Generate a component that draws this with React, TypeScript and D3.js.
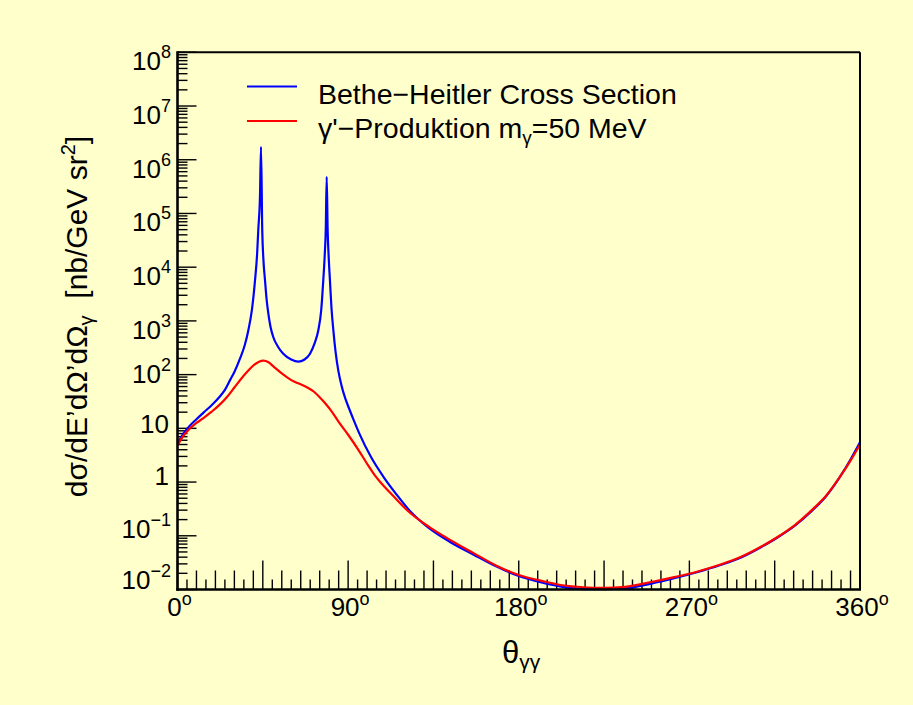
import React from "react";
import * as d3 from "d3";

// ---- data ----
const bhTheta = [0, 3, 6, 10, 14, 18, 22, 25, 27.7, 30, 33, 35.5, 37.4, 39.3, 40.9, 42.0, 42.6, 43.5, 44.05, 44.7, 45.3, 46.15, 47.0, 47.9, 49.0, 50.5, 53, 55.8, 60, 63.7, 67, 69.9, 72.3, 74.3, 75.8, 76.9, 77.7, 78.2, 78.7, 79.2, 79.8, 80.4, 81.2, 82.2, 83.4, 84.8, 86.5, 88.5, 90.5, 93, 96, 102, 109, 116, 123, 132, 144, 156, 168, 180, 192, 203, 214, 225, 236, 250, 262, 274, 286, 297.6, 308, 316.5, 326, 335, 342, 349.5, 355, 360];
const bhValue = [5.2, 7.9, 10.7, 14.8, 20, 27, 38, 52, 79, 112, 200, 355, 676, 1660, 5750, 17800, 49000, 204000, 1.74e6, 49000, 14100, 5750, 2510, 1380, 794, 501, 331, 245, 191, 174, 191, 245, 380, 676, 1580, 5750, 17800, 49000, 479000, 49000, 14100, 5750, 1780, 676, 263, 120, 63, 36, 23.4, 14.1, 7.9, 2.95, 1.2, 0.56, 0.28, 0.145, 0.076, 0.045, 0.027, 0.0178, 0.0135, 0.0112, 0.0102, 0.0102, 0.0105, 0.0129, 0.0162, 0.0209, 0.0282, 0.040, 0.062, 0.093, 0.158, 0.30, 0.54, 1.26, 2.63, 5.5];

const apTheta = [0, 3, 6, 10, 14, 18, 22, 26, 30, 33.5, 37, 40, 43, 45.3, 48, 51, 55, 60, 64, 68, 72, 75, 78, 81, 85, 90, 96, 100, 104, 108, 113.6, 122, 132.5, 144, 156, 168, 180, 192, 203, 214, 225, 236, 250, 262, 274, 286, 297.6, 308, 316.5, 326, 335, 342, 349.5, 355, 360];
const apValue = [4.8, 7.2, 9.5, 12.6, 15.8, 20.4, 27, 38, 57.5, 83, 115, 148, 174, 182, 170, 138, 105, 79, 68, 59, 48, 38, 29, 21.4, 13.2, 7.6, 3.7, 2.19, 1.35, 0.91, 0.56, 0.28, 0.148, 0.083, 0.048, 0.028, 0.0186, 0.0145, 0.012, 0.011, 0.0107, 0.0112, 0.0138, 0.017, 0.0214, 0.0288, 0.041, 0.063, 0.095, 0.162, 0.31, 0.55, 1.26, 2.5, 5.0];

const xTickLabels = ["0", "90", "180", "270", "360"];
const xTickValues = [0, 90, 180, 270, 360];
const yExponents = [-2, -1, 0, 1, 2, 3, 4, 5, 6, 7, 8];
const legendLabels = ["Bethe\u2212Heitler Cross Section", "\u03B3'\u2212Produktion m"];

// ---- layout ----
const W = 913, H = 705;
const X0 = 177.5, X1 = 860, Y0 = 52.3, Y1 = 589.5;
const FONT = "'Liberation Sans', Arial, Helvetica, sans-serif";
const BG = "#ffffcc";

export default function App() {
  const x = d3.scaleLinear().domain([0, 360]).range([X0, X1]);
  const y = d3.scaleLog().domain([1e-2, 1e8]).range([Y1, Y0]);

  const line = d3
    .line<[number, number]>()
    .x((d) => x(d[0]))
    .y((d) => y(d[1]))
    .curve(d3.curveMonotoneX);

  const bhPath = line(bhTheta.map((t, i) => [t, bhValue[i]]) as [number, number][]) || "";
  const apPath = line(apTheta.map((t, i) => [t, apValue[i]]) as [number, number][]) || "";

  const xTicks: { v: number; len: number }[] = [];
  for (let v = 0; v <= 360; v += 5) {
    const k = (v % 45) / 5;
    const len = v % 45 === 0 ? 29 : k % 2 === 0 ? 19 : 10;
    xTicks.push({ v, len });
  }
  const yTicks: { v: number; len: number }[] = [];
  for (let e = -2; e <= 8; e++) {
    yTicks.push({ v: Math.pow(10, e), len: 19 });
    if (e < 8) for (let m = 2; m <= 9; m++) yTicks.push({ v: m * Math.pow(10, e), len: 10 });
  }

  const yLabelDy = (e: number) => (e >= 3 ? 18 : e === 2 ? 8 : e === 1 ? 4.5 : e === 0 ? 3 : e === -1 ? 2 : -1);

  return (
    <div style={{ position: "fixed", left: 0, top: 0, width: W, height: H }}>
      <svg width={W} height={H} style={{ display: "block" }} fontFamily={FONT}>
        <rect x={0} y={0} width={W} height={H} fill={BG} />
        <g stroke="#000" strokeWidth={1.4}>
          {xTicks.map((t, i) => (
            <line key={"xt" + i} x1={x(t.v)} x2={x(t.v)} y1={Y1} y2={Y1 - t.len} />
          ))}
          {yTicks.map((t, i) => (
            <line key={"yt" + i} x1={X0} x2={X0 + t.len} y1={y(t.v)} y2={y(t.v)} />
          ))}
        </g>
        <path d={bhPath} fill="none" stroke="#0000ff" strokeWidth={2.2} />
        <path d={apPath} fill="none" stroke="#ff0000" strokeWidth={2.2} />
        <line x1={X0} x2={X1} y1={Y0} y2={Y0} stroke="#000" strokeWidth={2} />
        <line x1={X1} x2={X1} y1={Y0} y2={Y1} stroke="#000" strokeWidth={2} />
        <line x1={X0} x2={X0} y1={Y0 - 1} y2={Y1 + 1.2} stroke="#000" strokeWidth={2.6} />
        <line x1={X0 - 1.2} x2={X1 + 1} y1={Y1} y2={Y1} stroke="#000" strokeWidth={2.6} />

        {xTickValues.map((v, i) => (
          <text key={"xl" + i} x={x(v) + 2} y={616} fontSize={26} textAnchor="middle" fill="#000">
            {xTickLabels[i]}
            <tspan fontSize={18} dy={-11}>o</tspan>
          </text>
        ))}
        {yExponents.map((e) => {
          const ty = y(Math.pow(10, e)) + yLabelDy(e);
          if (e === 0)
            return (
              <text key={"yl" + e} x={169} y={ty} fontSize={26} textAnchor="end">1</text>
            );
          if (e === 1)
            return (
              <text key={"yl" + e} x={169} y={ty} fontSize={26} textAnchor="end">10</text>
            );
          return (
            <text key={"yl" + e} x={171} y={ty} fontSize={26} textAnchor="end">
              10
              <tspan fontSize={18} dy={-12}>{e < 0 ? "\u2212" + Math.abs(e) : String(e)}</tspan>
            </text>
          );
        })}

        <text x={521} y={663} textAnchor="middle" fill="#000">
          <tspan fontSize={31}>{"\u03B8"}</tspan>
          <tspan fontSize={21} dy={6}>{"\u03B3\u03B3"}</tspan>
        </text>
        <text transform="translate(87,316.5) rotate(-90)" textAnchor="middle" fontSize={30} fill="#000">
          {"d\u03C3/dE\u2019d\u03A9\u2019d\u03A9"}
          <tspan fontSize={20} dy={6}>{"\u03B3"}</tspan>
          <tspan dy={-6}>{"\u00A0\u00A0[nb/GeV sr"}</tspan>
          <tspan fontSize={20} dy={-12}>2</tspan>
          <tspan dy={12}>]</tspan>
        </text>

        <line x1={247} x2={297} y1={86.5} y2={86.5} stroke="#0000ff" strokeWidth={2} />
        <text x={318} y={104} fontSize={28.5}>{legendLabels[0]}</text>
        <line x1={247} x2={297} y1={121} y2={121} stroke="#ff0000" strokeWidth={2} />
        <text x={318} y={138} fontSize={28.5}>
          {legendLabels[1]}
          <tspan fontSize={19} dy={6}>{"\u03B3"}</tspan>
          <tspan dy={-6}>=50 MeV</tspan>
        </text>
      </svg>
    </div>
  );
}
